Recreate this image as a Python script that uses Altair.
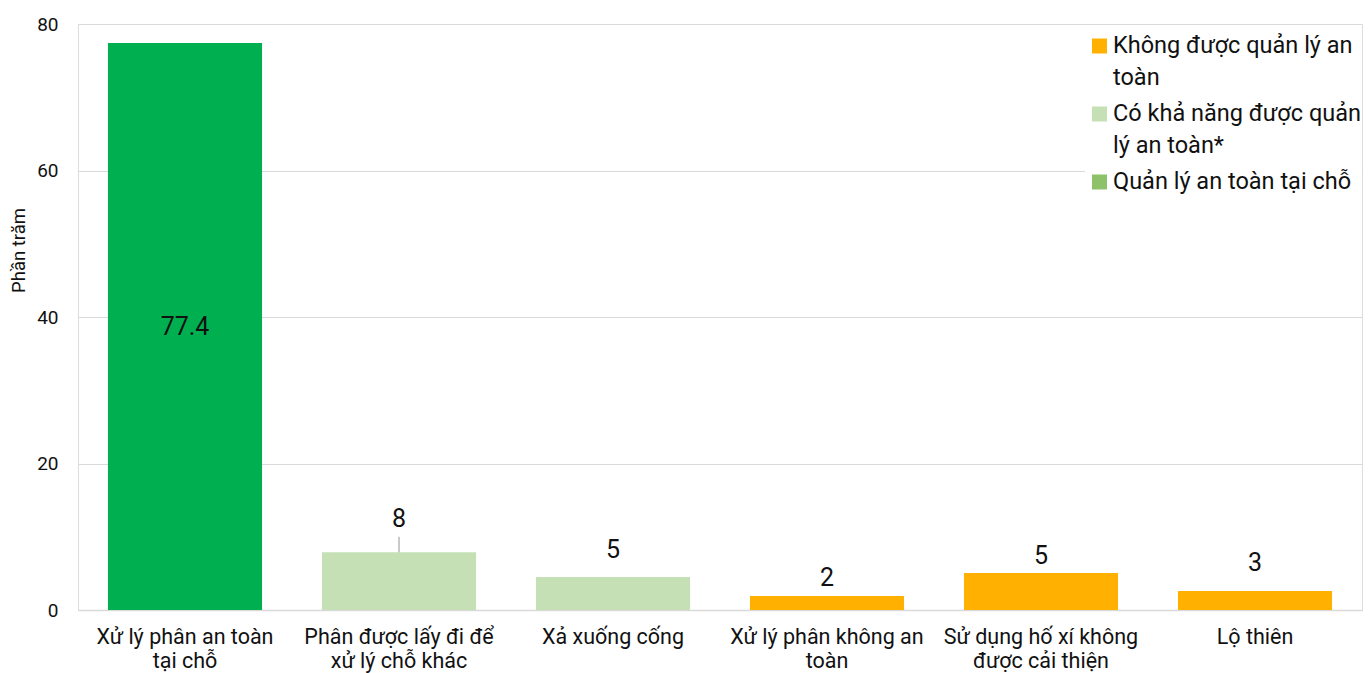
import altair as alt
import pandas as pd

FONT = "Roboto"

categories = [
    "Xử lý phân an toàn|tại chỗ",
    "Phân được lấy đi để|xử lý chỗ khác",
    "Xả xuống cống",
    "Xử lý phân không an|toàn",
    "Sử dụng hố xí không|được cải thiện",
    "Lộ thiên",
]
values = [77.4, 7.9, 4.5, 1.9, 5.05, 2.6]
value_labels = ["77.4", "8", "5", "2", "5", "3"]
label_y = [38.7, 12.4, 8.2, 4.4, 7.4, 6.4]
groups = [
    "Quản lý an toàn tại chỗ",
    "Có khả năng được quản lý an toàn*",
    "Có khả năng được quản lý an toàn*",
    "Không được quản lý an toàn",
    "Không được quản lý an toàn",
    "Không được quản lý an toàn",
]
group_domain = [
    "Không được quản lý an toàn",
    "Có khả năng được quản lý an toàn*",
    "Quản lý an toàn tại chỗ",
]
bar_colors = ["#FFB000", "#C5E0B4", "#00B050"]
legend_colors = ["#FFB000", "#C5E0B4", "#8DC26B"]
legend_lines = [
    ["Không được quản lý an", "toàn"],
    ["Có khả năng được quản", "lý an toàn*"],
    ["Quản lý an toàn tại chỗ"],
]
leader_top = 10.0

df = pd.DataFrame({
    "cat": categories,
    "value": values,
    "label": value_labels,
    "label_y": label_y,
    "group": groups,
})

W, H = 1284, 586

x_enc = alt.X(
    "cat:N",
    sort=categories,
    scale=alt.Scale(paddingInner=0.28, paddingOuter=0.14),
    axis=alt.Axis(
        title=None,
        labelAngle=0,
        labelExpr="split(datum.label, '|')",
        labelFontSize=21.5,
        labelLineHeight=24,
        labelPadding=16,
        labelColor="#111111",
        labelFont=FONT,
        ticks=False,
        domainColor="#D9D9D9",
        domainWidth=1.5,
        labelLimit=300,
    ),
)

y_scale = alt.Scale(domain=[0, 80], nice=False)

bars = alt.Chart(df).mark_bar().encode(
    x=x_enc,
    y=alt.Y(
        "value:Q",
        scale=y_scale,
        axis=alt.Axis(
            title="Phần trăm",
            values=[0, 20, 40, 60, 80],
            grid=True,
            gridColor="#D9D9D9",
            gridWidth=1.2,
            domain=False,
            ticks=False,
            labelPadding=20,
            labelFontSize=19,
            labelColor="#111111",
            labelFont=FONT,
            titleFont=FONT,
            titleFontSize=18.5,
            titleFontWeight="normal",
            titleColor="#111111",
            titleX=-60,
            titleY=226,
            titleAngle=270,
            titleAlign="center",
            titleBaseline="middle",
        ),
    ),
    color=alt.Color(
        "group:N",
        scale=alt.Scale(domain=group_domain, range=bar_colors),
        legend=None,
    ),
)

labels = alt.Chart(df).mark_text(
    font=FONT, fontSize=25, color="#111111", baseline="middle", align="center"
).encode(
    x=alt.X("cat:N", sort=categories),
    y=alt.Y("label_y:Q", scale=y_scale),
    text="label:N",
)

leader_df = pd.DataFrame({"cat": [categories[1]], "y": [values[1]], "y2": [leader_top]})
leader = alt.Chart(leader_df).mark_rule(color="#A6A6A6", strokeWidth=1.2).encode(
    x=alt.X("cat:N", sort=categories),
    y=alt.Y("y:Q", scale=y_scale),
    y2="y2:Q",
)

# legend background (hides gridlines behind legend)
legend_bg = alt.Chart(pd.DataFrame({"a": [0]})).mark_rect(color="white").encode(
    x=alt.value(1007), x2=alt.value(W), y=alt.value(6), y2=alt.value(176)
)

legend_layers = [legend_bg]
line_h = 32
entry_gap = 36
y_cur = 22
for lines, col in zip(legend_lines, legend_colors):
    sq = alt.Chart(pd.DataFrame({"a": [0]})).mark_square(
        size=225, color=col, opacity=1, filled=True
    ).encode(x=alt.value(1021.5), y=alt.value(y_cur))
    legend_layers.append(sq)
    for i, ln in enumerate(lines):
        t = alt.Chart(pd.DataFrame({"a": [0]})).mark_text(
            text=ln, font=FONT, fontSize=23.5, color="#111111", align="left", baseline="middle"
        ).encode(x=alt.value(1035), y=alt.value(y_cur + i * line_h))
        legend_layers.append(t)
    y_cur += (len(lines) - 1) * line_h + entry_gap

chart = alt.layer(bars, leader, labels, *legend_layers).properties(
    width=W,
    height=H,
    autosize=alt.AutoSizeParams(type="none"),
    padding={"left": 78, "top": 24, "right": 10, "bottom": 63},
).configure_view(stroke=None).configure(background="white")

chart.save("out.html", embed_options={"renderer": "svg", "actions": False})
